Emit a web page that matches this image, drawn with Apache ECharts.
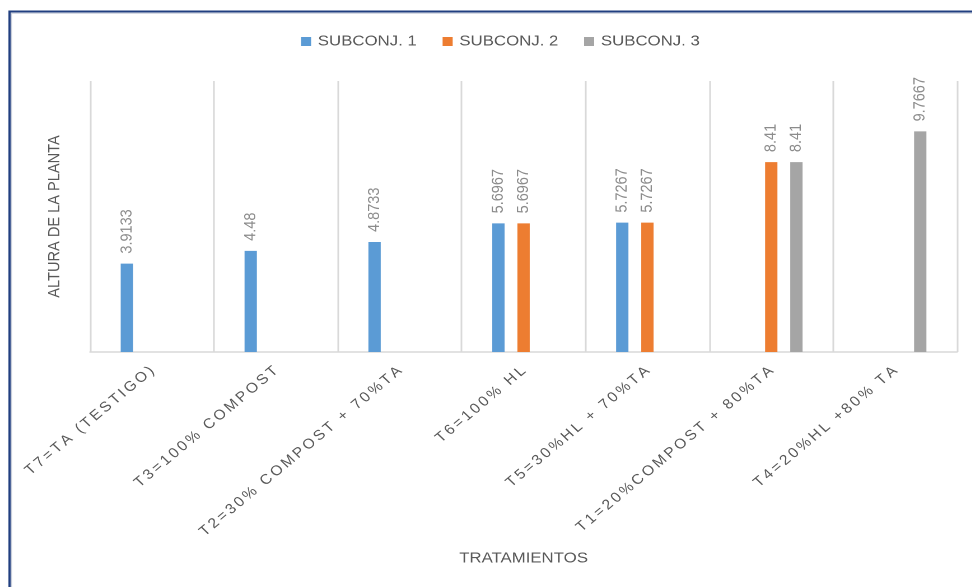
<!DOCTYPE html>
<html>
<head>
<meta charset="utf-8">
<script src="https://cdn.jsdelivr.net/npm/echarts@6/dist/echarts.min.js"></script>
<style>
  html, body { margin: 0; padding: 0; background: #fff; overflow: hidden; width: 972px; height: 587px; }
  /* the chart is laid out narrower and widened horizontally, giving the wide lettering */
  #chart { width: 868px; height: 587px; transform: scaleX(1.12); transform-origin: 0 0; }
</style>
</head>
<body>
<div id="chart"></div>
<script>
const categories = [
  'T7=TA (TESTIGO)',
  'T3=100% COMPOST',
  'T2=30% COMPOST + 70%TA',
  'T6=100% HL',
  'T5=30%HL + 70%TA',
  'T1=20%COMPOST + 80%TA',
  'T4=20%HL +80% TA'
];
const seriesNames = ['SUBCONJ. 1', 'SUBCONJ. 2', 'SUBCONJ. 3'];
const subconj1 = [3.9133, 4.48, 4.8733, 5.6967, 5.7267, null, null];
const subconj2 = [null, null, null, 5.6967, 5.7267, 8.41, null];
const subconj3 = [null, null, null, null, null, 8.41, 9.7667];
const yAxisTitle = 'ALTURA DE LA PLANTA';
const xAxisTitle = 'TRATAMIENTOS';

const FONT = '"Liberation Sans", Arial, sans-serif';
const TEXT = '#595959';
const colors = ['#5B9BD5', '#ED7D31', '#A5A5A5'];

// spread category letters apart: each character is its own rich token with right padding
function spaced(str) {
  const chars = Array.from(str);
  return chars.map((c, i) => '{' + (i < chars.length - 1 ? 'c' : 'e') + '|' + c + '}').join('');
}

const chart = echarts.init(document.getElementById('chart'), null, { devicePixelRatio: 2 });

function barSeries(name, data, color) {
  return {
    name: name,
    type: 'bar',
    data: data,
    barWidth: 11,
    barGap: '104%',
    itemStyle: { color: color },
    label: {
      show: true,
      position: 'top',
      rotate: 90,
      align: 'left',
      verticalAlign: 'middle',
      distance: 10,
      fontFamily: FONT,
      fontSize: 14.5,
      color: '#8C8C8C'
    }
  };
}

chart.setOption({
  animation: false,
  backgroundColor: '#ffffff',
  color: colors,
  graphic: [
    {
      type: 'rect', silent: true, z: 100,
      shape: { x: 8.5, y: 11.5, width: 1200, height: 1200 },
      style: { fill: 'none', stroke: '#213F80', lineWidth: 2 }
    },
    {
      type: 'rect', silent: true, z: 100,
      shape: { x: 10.2, y: 13.2, width: 1200, height: 1200 },
      style: { fill: 'none', stroke: '#C9CEDA', lineWidth: 1 }
    }
  ],
  legend: {
    data: seriesNames,
    left: 268.8,
    top: 34,
    padding: 0,
    itemWidth: 9,
    itemHeight: 9,
    itemGap: 23,
    icon: 'rect',
    textStyle: { color: TEXT, fontFamily: FONT, fontSize: 15, padding: [0, 0, 0, 1] }
  },
  grid: { left: 80.4, right: 13.5, top: 81, bottom: 235, containLabel: false },
  xAxis: {
    type: 'category',
    data: categories,
    name: xAxisTitle,
    nameLocation: 'middle',
    nameGap: 199,
    nameTextStyle: { color: TEXT, fontFamily: FONT, fontSize: 15 },
    axisLine: { show: true, lineStyle: { color: '#D9D9D9', width: 1.5 } },
    axisTick: { show: false },
    splitLine: { show: true, interval: 0, lineStyle: { color: '#D9D9D9', width: 1.5 } },
    axisLabel: {
      interval: 0,
      rotate: 43,
      margin: 17,
      align: 'right',
      verticalAlign: 'middle',
      color: TEXT,
      fontFamily: FONT,
      fontSize: 14,
      formatter: spaced,
      rich: {
        c: { color: TEXT, fontFamily: FONT, fontSize: 14, padding: [0, 2.5, 0, 0] },
        e: { color: TEXT, fontFamily: FONT, fontSize: 14 }
      }
    }
  },
  yAxis: {
    type: 'value',
    min: 0,
    max: 12,
    interval: 2,
    name: yAxisTitle,
    nameLocation: 'middle',
    nameGap: 24,
    nameRotate: 90,
    nameTextStyle: { color: TEXT, fontFamily: FONT, fontSize: 14.6 },
    axisLine: { show: false },
    axisTick: { show: false },
    axisLabel: { show: false },
    splitLine: { show: false }
  },
  series: [
    barSeries(seriesNames[0], subconj1, colors[0]),
    barSeries(seriesNames[1], subconj2, colors[1]),
    barSeries(seriesNames[2], subconj3, colors[2])
  ]
});
</script>
</body>
</html>
